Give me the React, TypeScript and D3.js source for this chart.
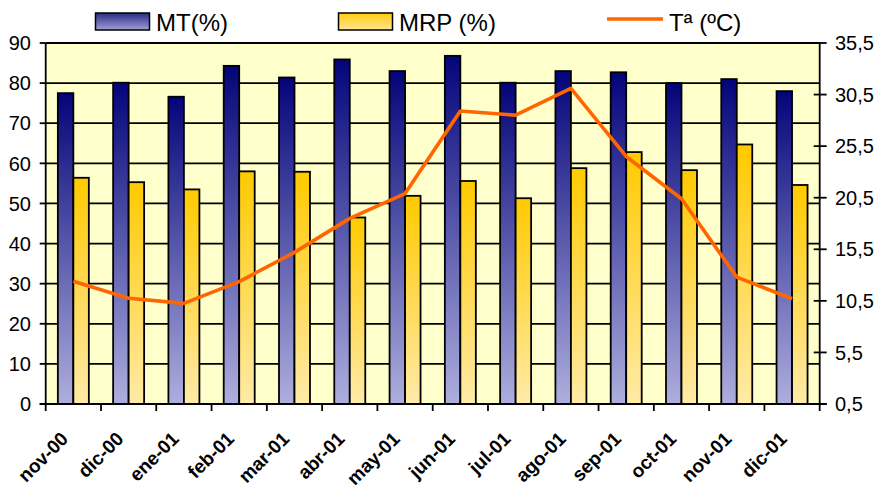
import React from "react";
import * as d3 from "d3";

const categories = ["nov-00","dic-00","ene-01","feb-01","mar-01","abr-01","may-01","jun-01","jul-01","ago-01","sep-01","oct-01","nov-01","dic-01"];
const mtValues = [77.5, 80.1, 76.6, 84.3, 81.4, 85.9, 83.0, 86.8, 80.1, 83.0, 82.7, 80.0, 81.0, 78.0];
const mrpValues = [56.4, 55.3, 53.5, 58.0, 57.9, 46.5, 51.9, 55.6, 51.3, 58.8, 62.8, 58.3, 64.7, 54.6];
const tempValues = [12.4, 10.75, 10.26, 12.36, 15.2, 18.5, 20.9, 28.9, 28.5, 31.1, 24.5, 20.4, 12.8, 10.7];
const leftTicks = [0, 10, 20, 30, 40, 50, 60, 70, 80, 90];
const rightTicks = [0.5, 5.5, 10.5, 15.5, 20.5, 25.5, 30.5, 35.5];
const seriesNames = ["MT(%)", "MRP (%)", "Tª (ºC)"];

const W = 882, H = 490;
const X0 = 45.7, X1 = 819.7, YT = 43, YB = 404;

export default function App() {
  const x = d3.scaleBand<string>().domain(categories).range([X0, X1]).paddingInner(0).paddingOuter(0);
  const bw = x.bandwidth();
  const sub = d3.scaleBand<string>().domain(["MT", "MRP"]).range([0, bw]).paddingInner(0).paddingOuter(0.784);
  const yL = d3.scaleLinear().domain([0, 90]).range([YB, YT]);
  const yR = d3.scaleLinear().domain([0.5, 35.5]).range([YB, YT]);
  const line = d3.line<number>().x((_, i) => (x(categories[i]) as number) + bw / 2).y(d => yR(d));
  const fmt = (v: number) => v.toFixed(1).replace(".", ",");
  const boundaries = d3.range(categories.length + 1).map(i => X0 + i * bw);
  const font = "Arial, 'Liberation Sans', sans-serif";

  return (
    <svg width={W} height={H} style={{ position: "absolute", left: 0, top: 0, background: "#fff" }} fontFamily={font}>
      <defs>
        <linearGradient id="gMT" x1="0" y1="0" x2="0" y2="1">
          <stop offset="0" stopColor="#04047A" />
          <stop offset="1" stopColor="#AEAEDE" />
        </linearGradient>
        <linearGradient id="gMRP" x1="0" y1="0" x2="0" y2="1">
          <stop offset="0" stopColor="#FFCA00" />
          <stop offset="1" stopColor="#FFEAA8" />
        </linearGradient>
        <linearGradient id="gMTl" x1="0" y1="0" x2="0" y2="1">
          <stop offset="0" stopColor="#2A2A86" />
          <stop offset="1" stopColor="#A0A0D4" />
        </linearGradient>
        <linearGradient id="gMRPl" x1="0" y1="0" x2="0" y2="1">
          <stop offset="0" stopColor="#FFCC10" />
          <stop offset="1" stopColor="#FFE590" />
        </linearGradient>
      </defs>
      <rect x={X0} y={YT} width={X1 - X0} height={YB - YT} fill="#FFFFCC" />
      {leftTicks.filter(t => t > 0).map(t => (
        <line key={"g" + t} x1={X0} x2={X1} y1={yL(t)} y2={yL(t)} stroke="#000" strokeWidth={1.8} />
      ))}
      {categories.map((c, i) => (
        <g key={c}>
          <rect x={(x(c) as number) + (sub("MT") as number)} y={yL(mtValues[i])} width={sub.bandwidth()} height={YB - yL(mtValues[i])} fill="url(#gMT)" stroke="#000" strokeWidth={1.8} />
          <rect x={(x(c) as number) + (sub("MRP") as number)} y={yL(mrpValues[i])} width={sub.bandwidth()} height={YB - yL(mrpValues[i])} fill="url(#gMRP)" stroke="#000" strokeWidth={1.8} />
        </g>
      ))}
      <path d={line(tempValues) || ""} fill="none" stroke="#FF6600" strokeWidth={3.6} strokeLinejoin="round" />
      <line x1={X0} x2={X0} y1={YT} y2={YB} stroke="#000" strokeWidth={1.8} />
      <line x1={X1} x2={X1} y1={YT} y2={YB} stroke="#000" strokeWidth={1.8} />
      <line x1={X0 - 6} x2={X1 + 7} y1={YB} y2={YB} stroke="#000" strokeWidth={1.8} />
      {leftTicks.map(t => (
        <g key={"l" + t}>
          <line x1={X0 - 6} x2={X0} y1={yL(t)} y2={yL(t)} stroke="#000" strokeWidth={1.8} />
          <text x={31} y={yL(t)} dy="0.36em" textAnchor="end" fontSize={20} fill="#000">{t}</text>
        </g>
      ))}
      {rightTicks.map(t => (
        <g key={"r" + t}>
          <line x1={X1 - 6} x2={X1 + 7} y1={yR(t)} y2={yR(t)} stroke="#000" strokeWidth={1.8} />
          <text x={835} y={yR(t)} dy="0.36em" textAnchor="start" fontSize={20} fill="#000">{fmt(t)}</text>
        </g>
      ))}
      {boundaries.map((b, i) => (
        <line key={"b" + i} x1={b} x2={b} y1={YB} y2={YB + 7} stroke="#000" strokeWidth={1.8} />
      ))}
      {categories.map(c => {
        const cx = (x(c) as number) + bw / 2;
        return (
          <text key={"t" + c} transform={`translate(${cx - 4},${440}) rotate(-45)`} textAnchor="end" fontSize={19} fontWeight="bold" fill="#000">{c}</text>
        );
      })}
      <rect x={95.5} y={13} width={54} height={17} fill="url(#gMTl)" stroke="#000" strokeWidth={1.5} />
      <text x={156} y={31} fontSize={24} fill="#000">{seriesNames[0]}</text>
      <rect x={338.5} y={13} width={54} height={17} fill="url(#gMRPl)" stroke="#000" strokeWidth={1.5} />
      <text x={399} y={31} fontSize={24} fill="#000">{seriesNames[1]}</text>
      <line x1={607} x2={663} y1={19} y2={19} stroke="#FF6600" strokeWidth={3.6} />
      <text x={669} y={31} fontSize={24} fill="#000">{seriesNames[2]}</text>
    </svg>
  );
}
